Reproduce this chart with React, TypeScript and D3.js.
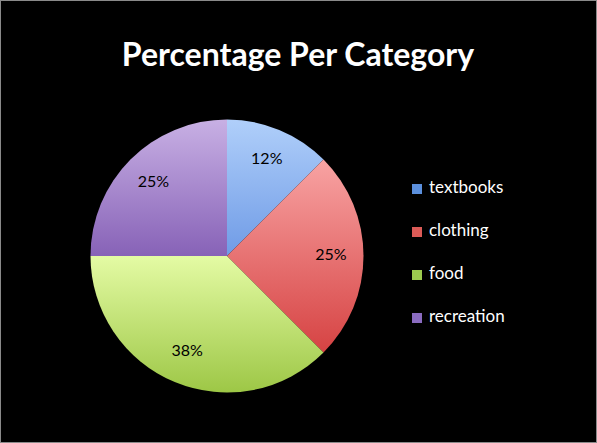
import React from "react";
import * as d3 from "d3";

const categories = ["textbooks", "clothing", "food", "recreation"];
const values = [12.5, 25, 37.5, 25];
const pctLabels = ["12%", "25%", "38%", "25%"];
const lightColors = ["#b0cffa", "#f8a3a3", "#e4fba4", "#c8b0e4"];
const darkColors = ["#6f9be6", "#d64343", "#9dc746", "#8762b7"];
const legendColors = ["#5b8fdc", "#dc5b57", "#9ccb4f", "#8a6bc0"];

const W = 597;
const H = 443;

const App: React.FC = () => {
  const cx = 227;
  const cy = 256;
  const R = 136.5;

  const pie = d3.pie<number>().sort(null).value((d) => d);
  const arcs = pie(values);
  const arc = d3.arc<d3.PieArcDatum<number>>().innerRadius(0).outerRadius(R);
  const labelArc = d3
    .arc<d3.PieArcDatum<number>>()
    .innerRadius(104)
    .outerRadius(104);

  const legendY = d3.scalePoint<string>().domain(categories).range([189, 318]);

  return (
    <svg
      width={W}
      height={H}
      style={{ position: "absolute", left: 0, top: 0, display: "block" }}
    >
      <defs>
        {categories.map((c, i) => (
          <linearGradient key={c} id={`g${i}`} x1="0" y1="0" x2="0" y2="1">
            <stop offset="0" stopColor={lightColors[i]} />
            <stop offset="1" stopColor={darkColors[i]} />
          </linearGradient>
        ))}
      </defs>
      <rect x={0} y={0} width={W} height={H} fill="#000" />
      <rect
        x={0.5}
        y={0.5}
        width={W - 1}
        height={H - 1}
        fill="none"
        stroke="#8a8a8a"
      />
      <text
        x={298}
        y={58}
        textAnchor="middle"
        dominantBaseline="middle"
        fill="#fff"
        fontFamily="Lato, 'Open Sans', sans-serif"
        fontWeight="bold"
        fontSize={32}
      >
        Percentage Per Category
      </text>
      <g transform={`translate(${cx},${cy})`}>
        {arcs.map((a, i) => (
          <path key={i} d={arc(a) || ""} fill={`url(#g${i})`} />
        ))}
        {arcs.map((a, i) => {
          const [x, y] = labelArc.centroid(a);
          return (
            <text
              key={i}
              x={x}
              y={y}
              textAnchor="middle"
              dominantBaseline="middle"
              fill="#000"
              fontFamily="Lato, 'Open Sans', sans-serif"
              fontSize={16}
            >
              {pctLabels[i]}
            </text>
          );
        })}
      </g>
      {categories.map((c, i) => {
        const y = legendY(c) || 0;
        return (
          <g key={c}>
            <rect x={412} y={y - 5} width={10} height={10} fill={legendColors[i]} />
            <text
              x={429}
              y={y}
              dominantBaseline="middle"
              fill="#fff"
              fontFamily="Lato, 'Open Sans', sans-serif"
              fontSize={17}
            >
              {c}
            </text>
          </g>
        );
      })}
    </svg>
  );
};

export default App;
